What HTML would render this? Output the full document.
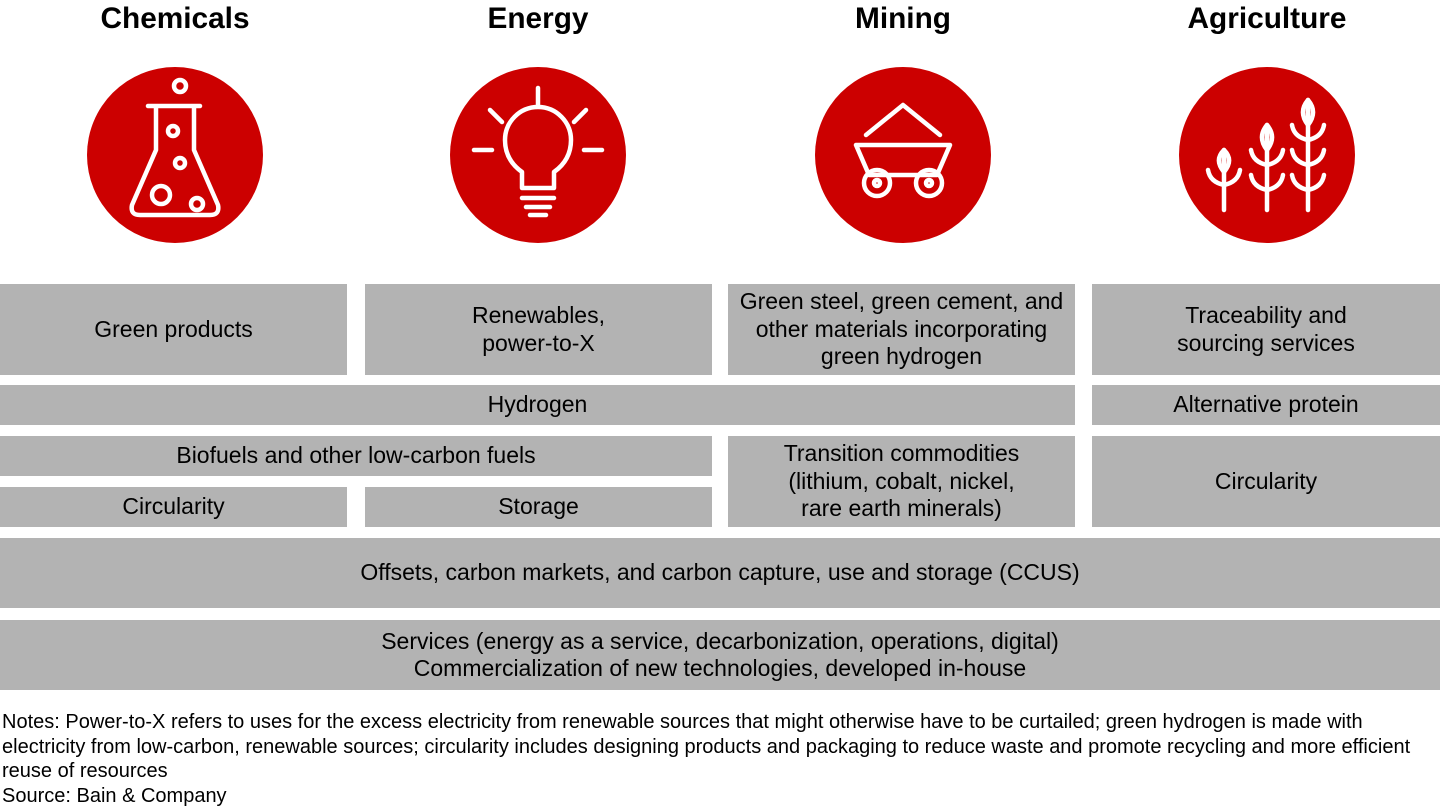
<!DOCTYPE html>
<html><head><meta charset="utf-8"><style>
body{margin:0;width:1440px;height:810px;background:#fff;position:relative;font-family:"Liberation Sans",sans-serif;overflow:hidden}
.t{position:absolute;top:1px;font-weight:bold;font-size:29.8px;text-align:center;width:300px;line-height:36px}
.b{position:absolute;background:#b3b3b3;display:flex;align-items:center;justify-content:center;text-align:center;font-size:23px;line-height:27.5px;color:#000}
.n{position:absolute;left:2px;font-size:20px;line-height:24.5px;top:710px;width:1430px}
svg{position:absolute;left:0;top:0}
</style></head><body>
<div class="t" style="left:25px">Chemicals</div>
<div class="t" style="left:388px">Energy</div>
<div class="t" style="left:753px">Mining</div>
<div class="t" style="left:1117px">Agriculture</div>
<svg width="1440" height="280" fill="none" stroke="#fff" stroke-width="4.5" stroke-linecap="round" stroke-linejoin="round">
<circle cx="175" cy="155" r="88" fill="#cc0000" stroke="none"/>
<circle cx="538" cy="155" r="88" fill="#cc0000" stroke="none"/>
<circle cx="903" cy="155" r="88" fill="#cc0000" stroke="none"/>
<circle cx="1267" cy="155" r="88" fill="#cc0000" stroke="none"/>
<path d="M148 106 H200 M156 106 V150 L132 205 Q130 215 140 215 H210 Q220 215 218 205 L194 150 V106"/>
<circle cx="180" cy="86" r="6"/><circle cx="173" cy="131" r="5"/><circle cx="180" cy="163" r="5"/><circle cx="161" cy="195" r="9"/><circle cx="197" cy="204" r="6"/>
<path d="M538 88 V106 M490 110 L502 122 M586 110 L574 122 M474 150 H492 M584 150 H602"/>
<path d="M522 188 V172 Q505 160 505 140 A33 33 0 0 1 571 140 Q571 160 554 172 V188 Z"/>
<path d="M522 198 H554 M526 207 H550 M530 215 H546"/>
<path d="M866 135 L903 105 L940 135 M856 145 H950 L937 175 H869 Z"/>
<circle cx="877" cy="183" r="13"/><circle cx="877" cy="183" r="3"/><circle cx="929" cy="183" r="13"/><circle cx="929" cy="183" r="3"/>
<path d="M1224 210 V150 M1267 210 V125 M1308 210 V100"/>
<path d="M1224 150 Q1214 160 1224 172 Q1234 160 1224 150 M1224 185 Q1210 182 1208 170 M1224 185 Q1238 182 1240 170"/>
<path d="M1267 125 Q1257 137 1267 150 Q1277 137 1267 125 M1267 165 Q1253 162 1251 150 M1267 165 Q1281 162 1283 150 M1267 190 Q1253 187 1251 175 M1267 190 Q1281 187 1283 175"/>
<path d="M1308 100 Q1298 112 1308 125 Q1318 112 1308 100 M1308 140 Q1294 137 1292 125 M1308 140 Q1322 137 1324 125 M1308 165 Q1294 162 1292 150 M1308 165 Q1322 162 1324 150 M1308 190 Q1294 187 1292 175 M1308 190 Q1322 187 1324 175"/>
</svg>
<div class="b" style="left:0;top:284px;width:347px;height:91px">Green products</div>
<div class="b" style="left:365px;top:284px;width:347px;height:91px">Renewables,<br>power-to-X</div>
<div class="b" style="left:728px;top:284px;width:347px;height:91px">Green steel, green cement, and<br>other materials incorporating<br>green hydrogen</div>
<div class="b" style="left:1092px;top:284px;width:348px;height:91px">Traceability and<br>sourcing services</div>
<div class="b" style="left:0;top:385px;width:1075px;height:40px">Hydrogen</div>
<div class="b" style="left:1092px;top:385px;width:348px;height:40px">Alternative protein</div>
<div class="b" style="left:0;top:436px;width:712px;height:40px">Biofuels and other low-carbon fuels</div>
<div class="b" style="left:0;top:487px;width:347px;height:40px">Circularity</div>
<div class="b" style="left:365px;top:487px;width:347px;height:40px">Storage</div>
<div class="b" style="left:728px;top:436px;width:347px;height:91px">Transition commodities<br>(lithium, cobalt, nickel,<br>rare earth minerals)</div>
<div class="b" style="left:1092px;top:436px;width:348px;height:91px">Circularity</div>
<div class="b" style="left:0;top:538px;width:1440px;height:70px">Offsets, carbon markets, and carbon capture, use and storage (CCUS)</div>
<div class="b" style="left:0;top:620px;width:1440px;height:70px">Services (energy as a service, decarbonization, operations, digital)<br>Commercialization of new technologies, developed in-house</div>
<div class="n">Notes: Power-to-X refers to uses for the excess electricity from renewable sources that might otherwise have to be curtailed; green hydrogen is made with<br>electricity from low-carbon, renewable sources; circularity includes designing products and packaging to reduce waste and promote recycling and more efficient<br>reuse of resources<br>Source: Bain &amp; Company</div>
</body></html>
